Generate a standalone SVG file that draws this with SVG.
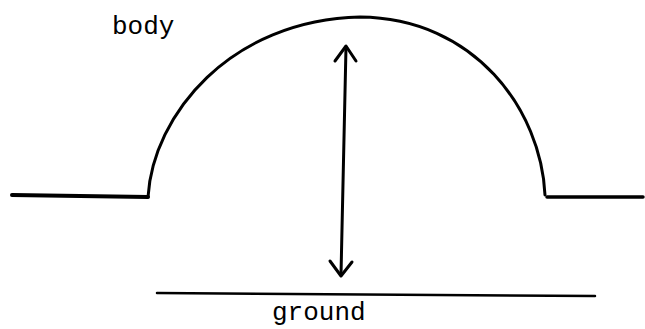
<svg xmlns="http://www.w3.org/2000/svg" width="645" height="329" viewBox="0 0 645 329">
<style>
.ln{fill:none;stroke:#000;stroke-linecap:round;stroke-linejoin:round}
.t{font-family:"Liberation Mono","Courier New",monospace;font-size:26px;fill:#000}
</style>
<rect width="645" height="329" fill="#fff"/>
<g id="body">
<path class="ln" stroke-width="4" d="M12,195 L148,197"/>
<path class="ln" stroke-width="3" d="M148,197 C153,115 230,20 360,17 C475,18 541,110 545,195"/>
<path class="ln" stroke-width="3.5" d="M547,197 L643,197"/>
<text class="t" x="112" y="34">body</text>
</g>
<g id="ground">
<path class="ln" stroke-width="2.5" d="M157,293 L595,296"/>
<text class="t" x="272" y="320">ground</text>
</g>
<g id="connectors">
<path class="ln" stroke-width="3" d="M346,47 L341,275"/>
<path class="ln" stroke-width="3" d="M335,61 L346,46 L356,61"/>
<path class="ln" stroke-width="3" d="M330,261 L341,276 L352,262"/>
</g>
</svg>
